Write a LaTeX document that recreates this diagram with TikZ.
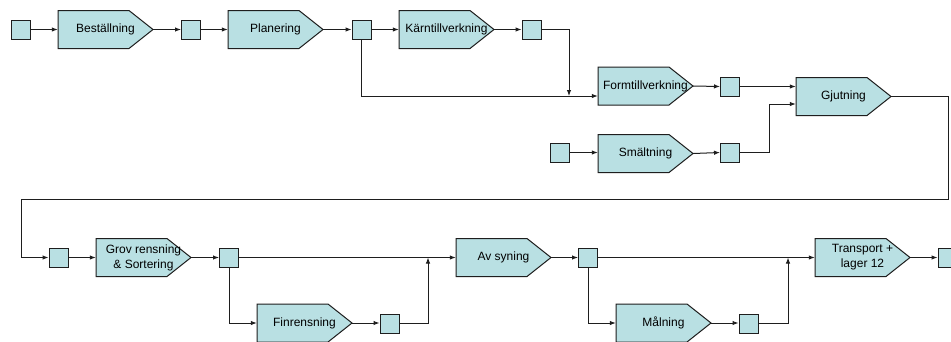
\documentclass[tikz,border=0pt]{standalone}
\usepackage{fontspec}
\setmainfont{Liberation Sans}
\usetikzlibrary{arrows.meta,calc}
\definecolor{procfill}{RGB}{185,224,227}
\definecolor{lnc}{RGB}{30,30,30}
\tikzset{
  sq/.style={draw=lnc, fill=procfill, line width=1pt, minimum width=19pt, minimum height=19pt, inner sep=0pt},
  proc/.style={draw=none, minimum width=95pt, minimum height=38pt, inner sep=0pt, align=center, font=\fontsize{12}{15}\selectfont, text=black},
  procshape/.style={draw=lnc, fill=procfill, line width=1pt, line join=miter},
  arr/.style={draw=lnc, line width=1pt, -{Latex[length=6pt,width=4.5pt]}}
}
\newcommand\procnode[3]{%
  \path[procshape] ($(#2)+(-47.5,-19)$) -- ++(71,0) -- ++(24,19) -- ++(-24,19) -- ++(-71,0) -- cycle;
  \node[proc] (#1) at (#2) {#3};%
}
\begin{document}
\begin{tikzpicture}[x=1pt,y=-1pt]
\useasboundingbox (0,0) rectangle (951,341);
\clip (0,0) rectangle (951,341);
\fill[white] (0,0) rectangle (951,341);
% processes
\procnode{best}{105.5,29.5}{Beställning}
\procnode{plan}{275.5,29.5}{Planering}
\procnode{karn}{446.5,29.5}{Kärntillverkning}
\procnode{form}{645.5,86}{Formtillverkning}
\procnode{gjut}{843.5,96.5}{Gjutning}
\procnode{smal}{645.5,153.5}{Smältning}
\procnode{grov}{143.5,257.5}{Grov rensning\\\& Sortering}
\procnode{finr}{304.5,323}{Finrensning}
\procnode{avsy}{503.5,257.5}{Av syning}
\procnode{maln}{663.5,323}{Målning}
\procnode{tran}{862.5,257.5}{Transport +\\lager 12}
% squares
\node[sq] (s1) at (20.5,29.5) {};
\node[sq] (s2) at (191,29.5) {};
\node[sq] (s3) at (361.5,29.5) {};
\node[sq] (s4) at (531.5,29.5) {};
\node[sq] (s5) at (730,86.5) {};
\node[sq] (s6) at (560,152.5) {};
\node[sq] (s7) at (730,152.5) {};
\node[sq] (s8) at (58.5,257.5) {};
\node[sq] (s9) at (229,257.5) {};
\node[sq] (s10) at (389.5,323.5) {};
\node[sq] (s11) at (588,257.5) {};
\node[sq] (s12) at (748.5,323.5) {};
\node[sq] (s13) at (947.5,257.5) {};
% helper coordinates
\coordinate (formin) at ($(form.west)+(0,10)$);
\coordinate (j1) at (569,96);
\coordinate (gjin2) at ($(gjut.west)+(0,7.5)$);
\coordinate (r1) at (948,199.5);
\coordinate (r2) at (21,257.5);
\coordinate (m1) at (428,257.5);
\coordinate (m2) at (788,257.5);
% connectors row 1
\draw[arr] (s1.east) -- (best.west);
\draw[arr] (best.east) -- (s2.west);
\draw[arr] (s2.east) -- (plan.west);
\draw[arr] (plan.east) -- (s3.west);
\draw[arr] (s3.east) -- (karn.west);
\draw[arr] (karn.east) -- (s4.west);
\draw[arr] (s4.east) -| (j1);
\draw[arr] (s3.south) |- (formin);
\draw[arr] (form.east) -- (s5.west);
\draw[arr] (s5.east) -- (gjut.west |- s5.east);
\draw[arr] (s6.east) -- (smal.west |- s6.east);
\draw[arr] (smal.east) -- (s7.west);
\draw[arr] (s7.east) -- ++(29,0) |- (gjin2);
\draw[arr] (gjut.east) -| (r1) -| (r2) -- (s8.west);
% row 2
\draw[arr] (s8.east) -- (grov.west);
\draw[arr] (grov.east) -- (s9.west);
\draw[arr] (s9.east) -- (avsy.west);
\draw[arr] (s9.south) |- (finr.west);
\draw[arr] (finr.east) -- (s10.west |- finr.east);
\draw[arr] (s10.east) -| (m1);
\draw[arr] (avsy.east) -- (s11.west);
\draw[arr] (s11.east) -- (tran.west);
\draw[arr] (s11.south) |- (maln.west);
\draw[arr] (maln.east) -- (s12.west |- maln.east);
\draw[arr] (s12.east) -| (m2);
\draw[arr] (tran.east) -- (s13.west);
\end{tikzpicture}
\end{document}
